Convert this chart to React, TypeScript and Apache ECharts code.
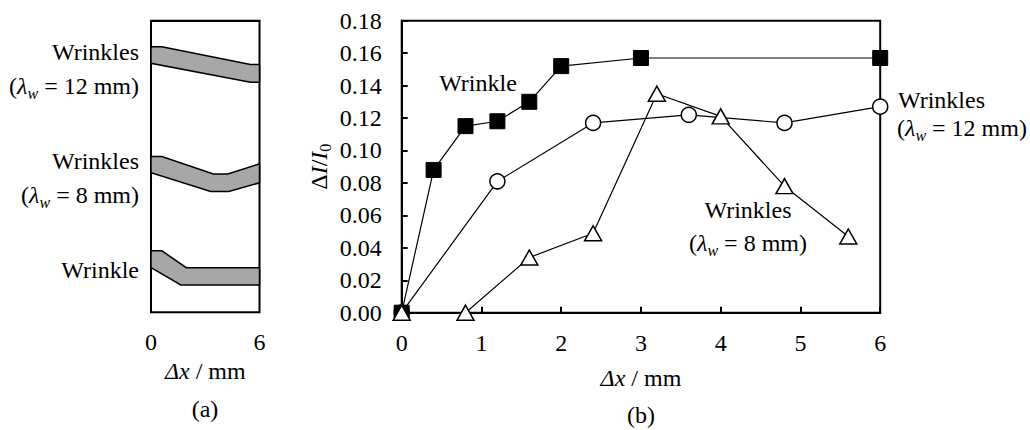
import React, { useEffect, useRef } from "react";
import * as echarts from "echarts";

// ---- Data (b) ----
const wrinkleX = [0, 0.4, 0.8, 1.2, 1.6, 2.0, 3.0, 6.0];
const wrinkleY = [0, 0.088, 0.115, 0.118, 0.13, 0.152, 0.157, 0.157];
const w12X = [0, 1.2, 2.4, 3.6, 4.8, 6.0];
const w12Y = [0, 0.081, 0.117, 0.122, 0.117, 0.127];
const w8X = [0, 0.8, 1.6, 2.4, 3.2, 4.0, 4.8, 5.6];
const w8Y = [0, 0, 0.034, 0.049, 0.135, 0.121, 0.078, 0.047];

// ---- Data (a): band outlines, x in mm, depth in % of panel height (top = 0) ----
const band12Top = [[0, 8.9], [0.6, 8.9], [5.5, 15.0], [6, 15.0]];
const band12Bottom = [[0, 14.6], [5.5, 21.1], [6, 21.1]];
const band8Top = [[0, 46.6], [0.6, 46.6], [3.45, 52.6], [4.25, 52.6], [6, 49.1]];
const band8Bottom = [[0, 52.1], [3.3, 58.6], [4.3, 58.6], [6, 55.6]];
const band1Top = [[0, 78.9], [0.6, 78.9], [1.95, 84.7], [6, 84.7]];
const band1Bottom = [[0, 84.7], [1.65, 90.6], [6, 90.6]];

const bands = [
  { top: band12Top, bottom: band12Bottom },
  { top: band8Top, bottom: band8Bottom },
  { top: band1Top, bottom: band1Bottom },
];

const FONT = "Liberation Serif";
const FS = 24;

const richLabel = {
  n: { fontFamily: FONT, fontSize: FS, lineHeight: 30, fill: "#000", color: "#000" },
  l: { fontFamily: FONT, fontSize: FS, lineHeight: 30, fontStyle: "italic", fill: "#000", color: "#000" },
  w: { fontFamily: FONT, fontSize: 16, lineHeight: 15, fontStyle: "italic", verticalAlign: "bottom", fill: "#000", color: "#000" },
};

function txt(text: string, x: number, y: number, align: string) {
  return {
    type: "text",
    x,
    y,
    silent: true,
    style: {
      text,
      align,
      verticalAlign: "middle",
      fontFamily: FONT,
      fontSize: FS,
      fill: "#000",
      rich: richLabel,
    },
  };
}

export default function App() {
  const ref = useRef<HTMLDivElement>(null);
  useEffect(() => {
    if (!ref.current) return;
    const chart = echarts.init(ref.current, null, { renderer: "svg" });
    const axisFont = { fontFamily: FONT, fontSize: FS, color: "#000" };
    const option: any = {
      animation: false,
      backgroundColor: "#fff",
      textStyle: { fontFamily: FONT },
      grid: [
        { left: 151, top: 20.7, width: 108.5, height: 291.6, show: true, borderColor: "#000", borderWidth: 2, backgroundColor: "transparent" },
        { left: 401.7, top: 20.7, width: 478.5, height: 292, show: true, borderColor: "#000", borderWidth: 2, backgroundColor: "transparent" },
      ],
      xAxis: [
        {
          type: "value", gridIndex: 0, min: 0, max: 6, interval: 6,
          axisLine: { show: true, lineStyle: { color: "#000", width: 2 } },
          axisTick: { show: false }, splitLine: { show: false },
          axisLabel: { ...axisFont, margin: 18 },
          name: "{i|Δx} / mm", nameLocation: "middle", nameGap: 47,
          nameTextStyle: { ...axisFont, rich: { i: { ...axisFont, fontStyle: "italic" } } },
        },
        {
          type: "value", gridIndex: 1, min: 0, max: 6, interval: 1,
          axisLine: { show: true, lineStyle: { color: "#000", width: 2 } },
          axisTick: { show: true, inside: true, length: 6, lineStyle: { color: "#000", width: 2 } },
          splitLine: { show: false },
          axisLabel: { ...axisFont, margin: 18 },
          name: "{i|Δx} / mm", nameLocation: "middle", nameGap: 53,
          nameTextStyle: { ...axisFont, rich: { i: { ...axisFont, fontStyle: "italic" } } },
        },
      ],
      yAxis: [
        {
          type: "value", gridIndex: 0, min: 0, max: 100, inverse: true, show: false,
        },
        {
          type: "value", gridIndex: 1, min: 0, max: 0.18, interval: 0.02,
          axisLine: { show: true, lineStyle: { color: "#000", width: 2 } },
          axisTick: { show: true, inside: true, length: 6, lineStyle: { color: "#000", width: 2 } },
          splitLine: { show: false },
          axisLabel: { ...axisFont, margin: 20, formatter: (v: number) => v.toFixed(2) },
          name: "{d|Δ}{i|I}{d|/}{i|I}{s|0}",
          nameLocation: "middle", nameGap: 68, nameRotate: 90,
          nameTextStyle: {
            ...axisFont,
            rich: {
              d: { ...axisFont, lineHeight: 30 },
              i: { ...axisFont, fontStyle: "italic", lineHeight: 30 },
              s: { ...axisFont, fontSize: 16, lineHeight: 15, verticalAlign: "bottom" },
            },
          },
        },
      ],
      series: [
        {
          type: "custom",
          xAxisIndex: 0, yAxisIndex: 0,
          coordinateSystem: "cartesian2d",
          data: bands.map((_, i) => [0, i]),
          silent: true,
          clip: false,
          renderItem: (params: any, api: any) => {
            const b = bands[params.dataIndex];
            const pts = [
              ...b.top.map((p) => api.coord(p)),
              ...b.bottom.slice().reverse().map((p) => api.coord(p)),
            ];
            return {
              type: "polygon",
              shape: { points: pts },
              style: { fill: "#a7a7aa", stroke: "#000", lineWidth: 1.5 },
            };
          },
        },
        {
          type: "line", xAxisIndex: 1, yAxisIndex: 1, z: 3,
          data: w12X.map((x, i) => [x, w12Y[i]]),
          symbol: "circle", symbolSize: 15,
          lineStyle: { color: "#000", width: 1.2 },
          itemStyle: { color: "#fff", borderColor: "#000", borderWidth: 1.5 },
        },
        {
          type: "line", xAxisIndex: 1, yAxisIndex: 1, z: 4,
          data: wrinkleX.map((x, i) => [x, wrinkleY[i]]),
          symbol: "rect", symbolSize: 15,
          lineStyle: { color: "#000", width: 1.2 },
          itemStyle: { color: "#000", borderColor: "#000", borderWidth: 1 },
        },
        {
          type: "line", xAxisIndex: 1, yAxisIndex: 1, z: 5,
          data: w8X.map((x, i) => [x, w8Y[i]]),
          symbol: "triangle", symbolSize: [17, 15],
          lineStyle: { color: "#000", width: 1.2 },
          itemStyle: { color: "#fff", borderColor: "#000", borderWidth: 1.5 },
        },
      ],
      graphic: [
        txt("{n|Wrinkles}", 139, 52, "right"),
        txt("{n|(}{l|λ}{w|w}{n| = 12 mm)}", 139, 86, "right"),
        txt("{n|Wrinkles}", 139, 161, "right"),
        txt("{n|(}{l|λ}{w|w}{n| = 8 mm)}", 139, 195, "right"),
        txt("{n|Wrinkle}", 139, 270, "right"),
        txt("{n|(a)}", 205, 409, "center"),
        txt("{n|(b)}", 641, 415, "center"),
        txt("{n|Wrinkle}", 478, 83, "center"),
        txt("{n|Wrinkles}", 748, 210, "center"),
        txt("{n|(}{l|λ}{w|w}{n| = 8 mm)}", 748, 243, "center"),
        txt("{n|Wrinkles}", 898, 100, "left"),
        txt("{n|(}{l|λ}{w|w}{n| = 12 mm)}", 897, 128, "left"),
      ],
    };
    chart.setOption(option);
    return () => chart.dispose();
  }, []);
  return (
    <div
      ref={ref}
      style={{ position: "fixed", left: 0, top: 0, width: 1030, height: 430, background: "#fff" }}
    />
  );
}
